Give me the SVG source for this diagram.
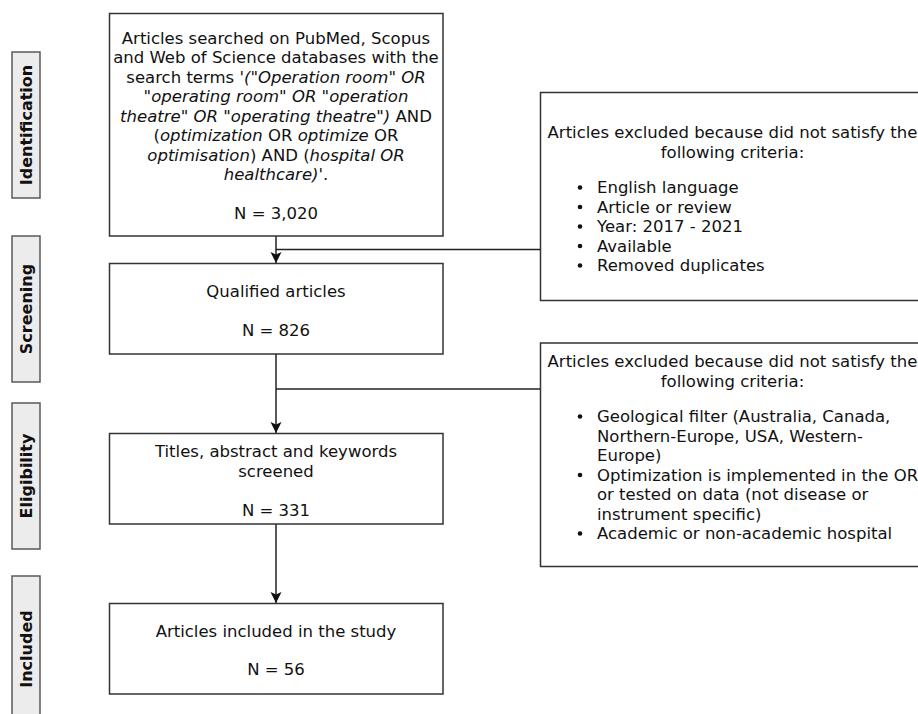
<svg xmlns="http://www.w3.org/2000/svg" width="918" height="714" viewBox="0 0 918 714">
  <style>
    .box { fill: #ffffff; stroke: #333333; stroke-width: 1.5; }
    .phase { fill: #ececec; stroke: #5a5a5a; stroke-width: 1.5; }
    .t { font-family: "DejaVu Sans", Verdana, sans-serif; font-size: 16.5px; fill: #111111; }
    .c { text-anchor: middle; }
    .i { font-style: italic; }
    .lbl { font-family: "DejaVu Sans", Verdana, sans-serif; font-size: 16px; font-weight: bold; fill: #111111; text-anchor: middle; }
    .edge { fill: none; stroke: #222222; stroke-width: 1.5; }
  </style>
  <defs>
    <marker id="arrow" markerWidth="12" markerHeight="12" refX="11" refY="5.5" orient="auto" markerUnits="userSpaceOnUse">
      <path d="M0,0 L11,5.5 L0,11 L2.5,5.5 Z" fill="#111111"/>
    </marker>
  </defs>
  <rect width="918" height="714" fill="#ffffff"/>

  <!-- phase labels -->
  <g id="phase-identification">
    <rect class="phase" x="12" y="52" width="28" height="146"/>
    <text class="lbl" transform="translate(32,125) rotate(-90)">Identification</text>
  </g>
  <g id="phase-screening">
    <rect class="phase" x="12" y="236" width="28" height="146"/>
    <text class="lbl" transform="translate(32,309) rotate(-90)">Screening</text>
  </g>
  <g id="phase-eligibility">
    <rect class="phase" x="12" y="403" width="28" height="146"/>
    <text class="lbl" transform="translate(32,476) rotate(-90)">Eligibility</text>
  </g>
  <g id="phase-included">
    <rect class="phase" x="12" y="576" width="28" height="146"/>
    <text class="lbl" transform="translate(32,649) rotate(-90)">Included</text>
  </g>

  <!-- connectors -->
  <g id="connectors">
    <line class="edge" x1="276" y1="236" x2="276" y2="263" marker-end="url(#arrow)"/>
    <line class="edge" x1="276" y1="249.5" x2="540" y2="249.5"/>
    <line class="edge" x1="276" y1="354" x2="276" y2="433" marker-end="url(#arrow)"/>
    <line class="edge" x1="276" y1="389" x2="540" y2="389"/>
    <line class="edge" x1="276" y1="524" x2="276" y2="603" marker-end="url(#arrow)"/>
  </g>

  <!-- search -->
  <g id="node-search">
    <rect class="box" x="109.5" y="13.5" width="333.5" height="222.5"/>
    <text class="t c" x="276" y="43.5">Articles searched on PubMed, Scopus</text>
    <text class="t c" x="276" y="63">and Web of Science databases with the</text>
    <text class="t c" x="276" y="82.5">search terms '<tspan class="i">("Operation room" OR</tspan></text>
    <text class="t c i" x="276" y="102">"operating room" OR "operation</text>
    <text class="t c" x="276" y="121.5"><tspan class="i">theatre" OR "operating theatre")</tspan> AND</text>
    <text class="t c" x="276" y="141">(<tspan class="i">optimization</tspan> OR <tspan class="i">optimize</tspan> OR</text>
    <text class="t c" x="276" y="160.5"><tspan class="i">optimisation</tspan>) AND (<tspan class="i">hospital OR</tspan></text>
    <text class="t c" x="276" y="180"><tspan class="i">healthcare)'</tspan>.</text>
    <text class="t c" x="276" y="219">N = 3,020</text>
  </g>

  <!-- exclusion 1 -->
  <g id="node-exclusion-1">
    <rect class="box" x="540.5" y="92.5" width="385" height="208"/>
    <text class="t c" x="732.5" y="138">Articles excluded because did not satisfy the</text>
    <text class="t c" x="732.5" y="157.5">following criteria:</text>
    <g class="t">
      <circle cx="580" cy="187.5" r="2.3" fill="#111111"/>
      <text x="597" y="193">English language</text>
      <circle cx="580" cy="207" r="2.3" fill="#111111"/>
      <text x="597" y="212.5">Article or review</text>
      <circle cx="580" cy="226.5" r="2.3" fill="#111111"/>
      <text x="597" y="232">Year: 2017 - 2021</text>
      <circle cx="580" cy="246" r="2.3" fill="#111111"/>
      <text x="597" y="251.5">Available</text>
      <circle cx="580" cy="265.5" r="2.3" fill="#111111"/>
      <text x="597" y="271">Removed duplicates</text>
    </g>
  </g>

  <!-- qualified -->
  <g id="node-qualified">
    <rect class="box" x="109.5" y="263.5" width="333.5" height="90.5"/>
    <text class="t c" x="276" y="297">Qualified articles</text>
    <text class="t c" x="276" y="336">N = 826</text>
  </g>

  <!-- exclusion 2 -->
  <g id="node-exclusion-2">
    <rect class="box" x="540.5" y="343" width="385" height="223.5"/>
    <text class="t c" x="732.5" y="367">Articles excluded because did not satisfy the</text>
    <text class="t c" x="732.5" y="386.5">following criteria:</text>
    <g class="t">
      <circle cx="580" cy="416.5" r="2.3" fill="#111111"/>
      <text x="597" y="422">Geological filter (Australia, Canada,</text>
      <text x="597" y="441.5">Northern-Europe, USA, Western-</text>
      <text x="597" y="461">Europe)</text>
      <circle cx="580" cy="475" r="2.3" fill="#111111"/>
      <text x="597" y="480.5">Optimization is implemented in the OR</text>
      <text x="597" y="500">or tested on data (not disease or</text>
      <text x="597" y="519.5">instrument specific)</text>
      <circle cx="580" cy="533.5" r="2.3" fill="#111111"/>
      <text x="597" y="539">Academic or non-academic hospital</text>
    </g>
  </g>

  <!-- screened -->
  <g id="node-screened">
    <rect class="box" x="109.5" y="433.5" width="333.5" height="90.5"/>
    <text class="t c" x="276" y="457">Titles, abstract and keywords</text>
    <text class="t c" x="276" y="476.5">screened</text>
    <text class="t c" x="276" y="515.5">N = 331</text>
  </g>

  <!-- included -->
  <g id="node-included">
    <rect class="box" x="109.5" y="603.5" width="333.5" height="90.5"/>
    <text class="t c" x="276" y="636.5">Articles included in the study</text>
    <text class="t c" x="276" y="675">N = 56</text>
  </g>
</svg>
